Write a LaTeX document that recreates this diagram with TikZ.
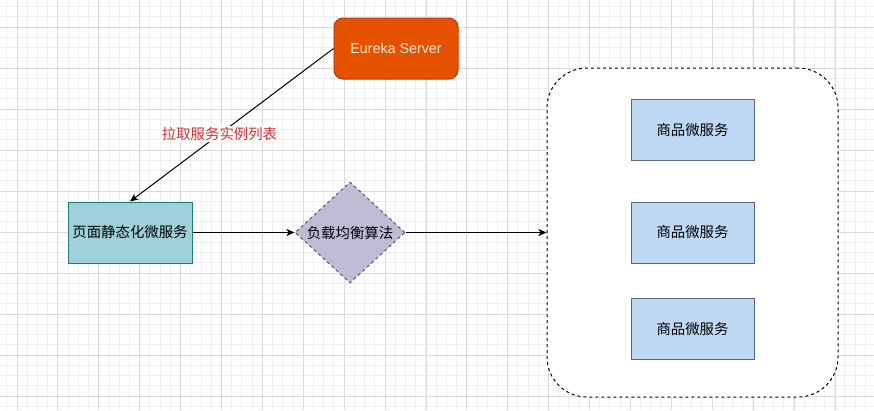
\documentclass[tikz,border=0pt]{standalone}
\usepackage{fontspec}
\setmainfont{Noto Sans CJK SC}
\newfontfamily\latinfont{Liberation Sans}
\usepackage{xcolor}
\usetikzlibrary{shapes.geometric, arrows.meta, positioning}
\definecolor{EurekaOrange}{HTML}{E65100}
\definecolor{EurekaLine}{HTML}{C73500}
\definecolor{EurekaText}{HTML}{FFEFD9}
\definecolor{PageTeal}{HTML}{9FD1D9}
\definecolor{PageLine}{HTML}{1F7C84}
\definecolor{AlgoPurple}{HTML}{BEBBD5}
\definecolor{AlgoLine}{HTML}{56517E}
\definecolor{GoodsBlue}{HTML}{BFD9F4}
\definecolor{GoodsLine}{HTML}{5D6873}
\definecolor{LabelRed}{HTML}{D32F2F}
\definecolor{GridMajor}{HTML}{DADADA}
\definecolor{GridMinor}{HTML}{EEEEEE}

\begin{document}
\begin{tikzpicture}[x=1pt, y=-1pt,
    font=\fontsize{14.4pt}{17pt}\selectfont,
    box/.style={rectangle, draw, line width=1pt, minimum width=124pt,
                minimum height=61pt, inner sep=0pt},
    goods/.style={box, fill=GoodsBlue, draw=GoodsLine, minimum width=123pt},
    link/.style={-{Stealth[length=8pt, width=7pt, inset=2pt]}, line width=1pt}]
    \useasboundingbox (0,0) rectangle (874,410);
    \fill[white] (0,0) rectangle (874,410);
    % background grid
    \foreach \i in {-1,...,84} {
        \draw[GridMinor, line width=0.6pt] ({16.9+\i*10.22},0) -- ++(0,410);
    }
    \foreach \j in {-2,...,39} {
        \draw[GridMinor, line width=0.6pt] (0,{27+\j*10.25}) -- ++(874,0);
    }
    \foreach \i in {0,...,21} {
        \draw[GridMajor, line width=0.8pt] ({16.9+\i*40.9},0) -- ++(0,410);
    }
    \foreach \j in {-1,...,9} {
        \draw[GridMajor, line width=0.8pt] (0,{27+\j*41}) -- ++(874,0);
    }

    % services
    \node[box, fill=EurekaOrange, draw=EurekaLine, rounded corners=9pt,
          text=EurekaText, font=\latinfont\fontsize{14.3pt}{17pt}\selectfont]
          (eureka) at (396,48.5) {Eureka Server};
    \node[box, fill=PageTeal, draw=PageLine] (page) at (130,232.5) {页面静态化微服务};
    \node[diamond, draw=AlgoLine, fill=AlgoPurple, dashed, line width=1pt,
          minimum width=110pt, minimum height=101pt, inner sep=0pt]
          (algo) at (350,232.5) {负载均衡算法};
    \node[rectangle, draw, dashed, line width=1pt, fill=white,
          rounded corners=40pt, minimum width=291pt, minimum height=329pt]
          (cluster) at (692.5,232.5) {};
    \node[goods] (goodsA) at (692.5,130) {商品微服务};
    \node[goods] (goodsB) at (692.5,232.5) {商品微服务};
    \node[goods] (goodsC) at (692.5,329) {商品微服务};

    % connections
    \draw[link] (eureka.west) -- node[fill=white, inner sep=1pt, text=LabelRed,
          pos=0.56] {拉取服务实例列表} (page.north);
    \draw[link] (page.east) -- (algo.west);
    \draw[link] (algo.east) -- (cluster.west);
\end{tikzpicture}
\end{document}
